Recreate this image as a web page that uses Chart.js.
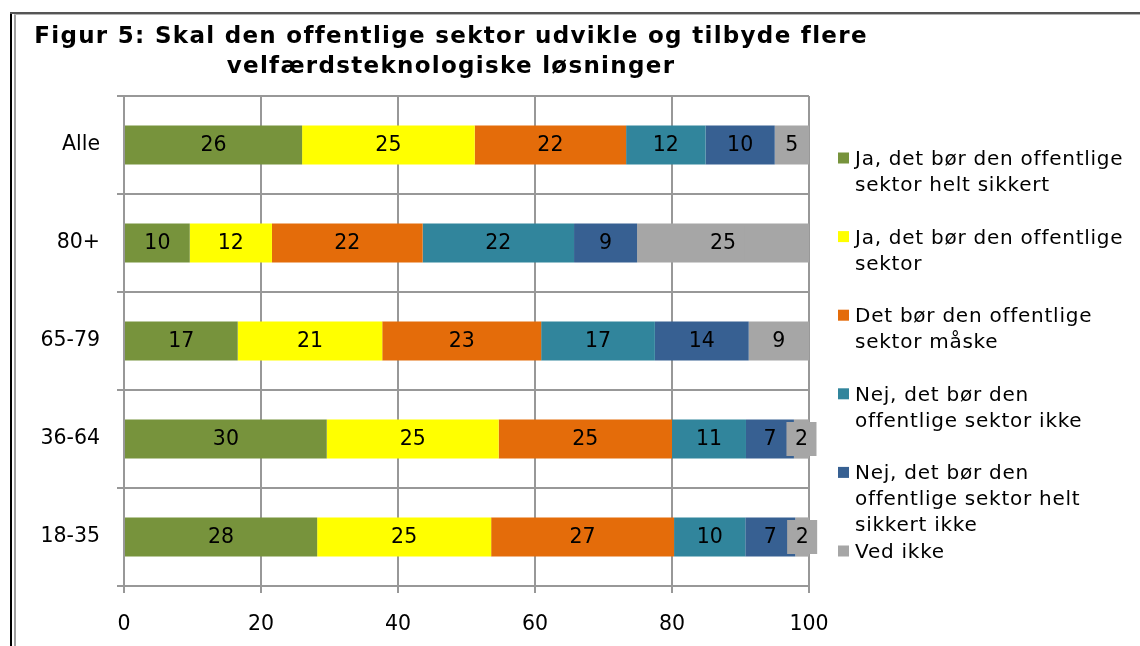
<!DOCTYPE html>
<html>
<head>
<meta charset="utf-8">
<script src="https://cdn.jsdelivr.net/npm/chart.js@4"></script>
<style>
  html, body { margin: 0; padding: 0; background: #ffffff; }
  #wrap { position: absolute; left: 0; top: 0; width: 1140px; height: 646px; }
</style>
</head>
<body>
<div id="wrap"><canvas id="c" width="1140" height="646"></canvas></div>
<script>
// ---- data ----
const titleLines = ['Figur 5: Skal den offentlige sektor udvikle og tilbyde flere', 'velfærdsteknologiske løsninger'];
const categories = ['Alle', '80+', '65-79', '36-64', '18-35'];
const seriesNames = [
  'Ja, det bør den offentlige sektor helt sikkert',
  'Ja, det bør den offentlige sektor',
  'Det bør den offentlige sektor måske',
  'Nej, det bør den offentlige sektor ikke',
  'Nej, det bør den offentlige sektor helt sikkert ikke',
  'Ved ikke'
];
const legendLines = [
  ['Ja, det bør den offentlige', 'sektor helt sikkert'],
  ['Ja, det bør den offentlige', 'sektor'],
  ['Det bør den offentlige', 'sektor måske'],
  ['Nej, det bør den', 'offentlige sektor ikke'],
  ['Nej, det bør den', 'offentlige sektor helt', 'sikkert ikke'],
  ['Ved ikke']
];
const jaHeltSikkert      = [26.0,  9.6, 16.6, 29.6, 28.2];
const jaBor              = [25.2, 12.0, 21.1, 25.1, 25.4];
const maaske             = [22.1, 22.0, 23.2, 25.3, 26.7];
const nejIkke            = [11.6, 22.1, 16.6, 10.8, 10.4];
const nejHeltSikkertIkke = [10.1,  9.2, 13.7,  7.0,  7.3];
const vedIkke            = [ 5.0, 25.1,  8.8,  2.2,  2.0];
const xTicks = [0, 20, 40, 60, 80, 100];

// ---- styles ----
const colors = ['#77933C', '#FFFF00', '#E46C0A', '#31859C', '#376092', '#A6A6A6'];
const FONT = '"DejaVu Sans", Verdana, sans-serif';
const FS = 20.5;
const gridColor = '#989898';
const seriesValues = [jaHeltSikkert, jaBor, maaske, nejIkke, nejHeltSikkertIkke, vedIkke];

const framePlugin = {
  id: 'frame',
  beforeDraw(chart) {
    const ctx = chart.ctx;
    ctx.save();
    ctx.fillStyle = '#ffffff';
    ctx.fillRect(0, 0, chart.width, chart.height);
    ctx.fillStyle = '#000000';
    ctx.fillRect(10, 12, 2, chart.height - 12);
    ctx.fillStyle = '#555555';
    ctx.fillRect(10, 12, chart.width - 10, 2);
    ctx.fillStyle = '#a0a0a0';
    ctx.fillRect(14, 14, 2, chart.height - 14);
    ctx.fillStyle = '#b4b4b4';
    ctx.fillRect(14, 14, chart.width - 14, 1);
    ctx.restore();
  }
};

const titleShiftPlugin = {
  id: 'titleShift',
  afterLayout(chart) {
    const t = chart.titleBlock;
    if (!t) return;
    t.left = 0;
    t.right = 902;
    if (!t._spaced) {
      const orig = t.draw;
      t.draw = function (...args) {
        const c = this.ctx;
        const prev = c.letterSpacing;
        c.letterSpacing = '1.3px';
        orig.apply(this, args);
        c.letterSpacing = prev;
      };
      t._spaced = true;
    }
  }
};

const labelPlugin = {
  id: 'barLabels',
  afterDatasetsDraw(chart) {
    const ctx = chart.ctx;
    ctx.save();
    ctx.font = FS + 'px ' + FONT;
    ctx.textAlign = 'center';
    ctx.textBaseline = 'middle';
    chart.data.datasets.forEach((ds, di) => {
      const meta = chart.getDatasetMeta(di);
      meta.data.forEach((bar, i) => {
        const v = ds.data[i];
        const txt = String(Math.round(v));
        const cx = (bar.x + bar.base) / 2;
        const cy = bar.y;
        if (di === chart.data.datasets.length - 1) {
          const w = ctx.measureText(txt).width + 17;
          ctx.fillStyle = ds.backgroundColor;
          ctx.fillRect(cx - w / 2, cy - 17, w, 34);
        }
        ctx.fillStyle = '#000000';
        ctx.fillText(txt, cx, cy + 1);
      });
    });
    ctx.restore();
  }
};

const legendPlugin = {
  id: 'sideLegend',
  afterDraw(chart) {
    const ctx = chart.ctx;
    const x0 = chart.chartArea.right + 29;
    ctx.save();
    ctx.font = '20px ' + FONT;
    ctx.letterSpacing = '0.75px';
    ctx.textAlign = 'left';
    ctx.textBaseline = 'alphabetic';
    chart.data.datasets.forEach((ds, di) => {
      const base = 165 + di * 78.6;
      ctx.fillStyle = ds.backgroundColor;
      ctx.fillRect(x0, base - 12.5, 11, 11);
      ctx.fillStyle = '#000000';
      legendLines[di].forEach((line, li) => {
        ctx.fillText(line, x0 + 17, base + li * 26);
      });
    });
    ctx.restore();
  }
};

new Chart(document.getElementById('c'), {
  type: 'bar',
  data: {
    labels: categories,
    datasets: seriesNames.map((name, i) => ({
      label: name,
      data: seriesValues[i],
      backgroundColor: colors[i],
      borderWidth: 0,
      barPercentage: 0.4,
      categoryPercentage: 1.0
    }))
  },
  options: {
    indexAxis: 'y',
    responsive: false,
    animation: false,
    devicePixelRatio: 1,
    layout: { padding: { left: 16, right: 331, top: 0, bottom: 0 } },
    plugins: {
      legend: { display: false },
      tooltip: { enabled: false },
      title: {
        display: true,
        text: titleLines,
        color: '#000000',
        font: { family: FONT, size: 23, weight: 'bold', lineHeight: 30 / 23 },
        padding: { top: 22, bottom: 14 }
      }
    },
    scales: {
      x: {
        stacked: true,
        min: 0,
        max: 100,
        afterBuildTicks(scale) { scale.ticks = xTicks.map(v => ({ value: v })); },
        afterFit(scale) { scale.height = 60; },
        ticks: { color: '#000000', font: { family: FONT, size: FS }, padding: 19 },
        grid: { color: gridColor, lineWidth: 2, tickLength: 7, drawTicks: true },
        border: { color: gridColor, width: 2 }
      },
      y: {
        stacked: true,
        afterFit(scale) { scale.width = 108; },
        ticks: { color: '#000000', font: { family: FONT, size: FS }, padding: 17 },
        grid: { color: gridColor, lineWidth: 2, tickLength: 7, offset: true, drawTicks: true },
        border: { color: gridColor, width: 2 }
      }
    }
  },
  plugins: [framePlugin, titleShiftPlugin, labelPlugin, legendPlugin]
});
</script>
</body>
</html>
